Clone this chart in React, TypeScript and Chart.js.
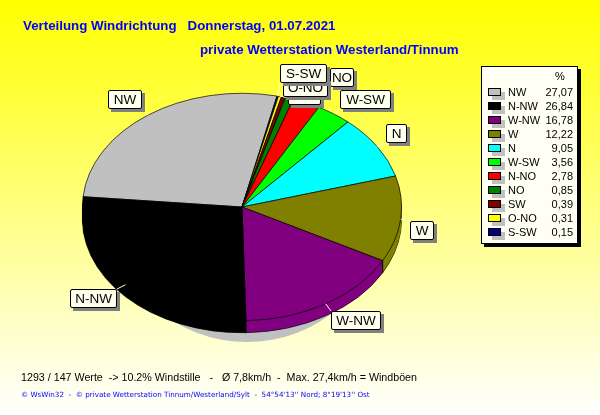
import React, { useEffect, useRef } from "react";
import { Chart, registerables } from "chart.js";

Chart.register(...registerables);

// ---- data (legend order) ----
const directions = ["NW", "N-NW", "W-NW", "W", "N", "W-SW", "N-NO", "NO", "SW", "O-NO", "S-SW"];
const shares = [27.07, 26.84, 16.78, 12.22, 9.05, 3.56, 2.78, 0.85, 0.39, 0.31, 0.15];
const shareLabels = ["27,07", "26,84", "16,78", "12,22", "9,05", "3,56", "2,78", "0,85", "0,39", "0,31", "0,15"];
const colours = ["#c0c0c0", "#000000", "#800080", "#808000", "#00ffff", "#00ff00", "#ff0000", "#008000", "#800000", "#ffff00", "#000080"];
// clockwise order of the slices round the pie
const pieOrder = ["NW", "S-SW", "O-NO", "SW", "NO", "N-NO", "W-SW", "N", "W", "W-NW", "N-NW"];

const titleLine1 = "Verteilung Windrichtung   Donnerstag, 01.07.2021";
const titleLine2 = "private Wetterstation Westerland/Tinnum";
const summaryLine = "1293 / 147 Werte  -> 10.2% Windstille   -   Ø 7,8km/h  -  Max. 27,4km/h = Windböen";
const footerLine = "© WsWin32  -  © private Wetterstation Tinnum/Westerland/Sylt  -  54°54'13'' Nord; 8°19'13'' Ost";

// ---- layout of the annotations ----
const SQUASH = 0.7125;
const DEPTH = 12;
const labelBoxes: Record<string, [number, number, number]> = {
  NW: [108, 90, 34],
  "N-NW": [70, 289, 47],
  "W-NW": [331, 311, 50],
  W: [410, 221, 24],
  N: [386, 124, 21],
  "W-SW": [340, 90, 51],
  "N-NO": [284, 77, 43],
  NO: [330, 68, 24],
  SW: [288, 86, 33],
  "O-NO": [283, 78, 45],
  "S-SW": [280, 64, 47],
};
const LABEL_H = 19;

const pieData = pieOrder.map((d) => shares[directions.indexOf(d)]);
const pieColours = pieOrder.map((d) => colours[directions.indexOf(d)]);

const piePlugin = {
  id: "pie3d",
  beforeDraw(chart: any) {
    const { ctx, width, height } = chart;
    const g = ctx.createLinearGradient(0, 0, 0, height);
    g.addColorStop(0, "#ffff00");
    g.addColorStop(1, "#ffffff");
    ctx.save();
    ctx.fillStyle = g;
    ctx.fillRect(0, 0, width, height);
    ctx.restore();
  },
  beforeDatasetsDraw(chart: any) {
    const { ctx } = chart;
    const arcs = chart.getDatasetMeta(0).data;
    const { x, y, outerRadius } = arcs[0];
    // soft shadow below the pie
    ctx.save();
    ctx.fillStyle = "#c0c0c0";
    ctx.beginPath();
    ctx.ellipse(x + 5, y + 16, 130, 119, 0, 0, Math.PI * 2);
    ctx.fill();
    ctx.restore();
    // side wall: the same arcs drawn again, stepping down
    for (let dy = DEPTH; dy >= 1; dy--) {
      ctx.save();
      ctx.translate(x, y + dy);
      ctx.scale(1, SQUASH);
      ctx.translate(-x, -y);
      arcs.forEach((arc: any) => {
        const saved = arc.options;
        if (dy !== DEPTH) {
          const o = Object.create(saved);
          Object.defineProperty(o, "borderWidth", { value: 0 });
          arc.options = o;
        }
        arc.draw(ctx);
        arc.options = saved;
      });
      ctx.restore();
    }
    // wall seams
    ctx.save();
    ctx.strokeStyle = "#000";
    ctx.lineWidth = 1;
    arcs.forEach((arc: any) => {
      if (Math.sin(arc.startAngle) > 0) {
        const px = x + outerRadius * Math.cos(arc.startAngle);
        const py = y + SQUASH * outerRadius * Math.sin(arc.startAngle);
        ctx.beginPath();
        ctx.moveTo(px, py);
        ctx.lineTo(px, py + DEPTH);
        ctx.stroke();
      }
    });
    ctx.restore();
    // top face
    ctx.save();
    ctx.translate(x, y);
    ctx.scale(1, SQUASH);
    ctx.translate(-x, -y);
  },
  afterDatasetsDraw(chart: any) {
    const { ctx } = chart;
    ctx.restore();
    const arcs = chart.getDatasetMeta(0).data;
    ctx.save();
    ctx.font = "13.5px 'Liberation Sans'";
    ctx.textAlign = "center";
    ctx.textBaseline = "middle";
    directions.forEach((name) => {
      const arc = arcs[pieOrder.indexOf(name)];
      const [bx, by, bw] = labelBoxes[name];
      const mid = (arc.startAngle + arc.endAngle) / 2;
      const ax = arc.x + arc.outerRadius * Math.cos(mid);
      const ay = arc.y + SQUASH * arc.outerRadius * Math.sin(mid);
      const ex = Math.min(Math.max(ax, bx), bx + bw);
      const ey = Math.min(Math.max(ay, by), by + LABEL_H);
      ctx.strokeStyle = "#ffffe8";
      ctx.lineWidth = 1;
      ctx.beginPath();
      ctx.moveTo(ax, ay);
      ctx.lineTo(ex, ey);
      ctx.stroke();
      ctx.fillStyle = "#808080";
      ctx.fillRect(bx + 3, by + 3, bw, LABEL_H);
      ctx.fillStyle = "#ffffee";
      ctx.strokeStyle = "#000";
      ctx.beginPath();
      ctx.roundRect(bx + 0.5, by + 0.5, bw - 1, LABEL_H - 1, 1.5);
      ctx.fill();
      ctx.stroke();
      ctx.fillStyle = "#000";
      ctx.fillText(name, bx + bw / 2, by + LABEL_H / 2 + 0.5);
    });
    ctx.restore();
  },
  afterDraw(chart: any) {
    const { ctx } = chart;
    ctx.save();
    ctx.textBaseline = "alphabetic";
    // titles
    ctx.fillStyle = "#0000ff";
    ctx.font = "bold 13.3px 'Liberation Sans'";
    ctx.textAlign = "left";
    ctx.fillText(titleLine1, 23, 30);
    ctx.fillText(titleLine2, 200, 54);
    // legend box
    ctx.fillStyle = "#000";
    ctx.fillRect(484, 69, 97, 178);
    ctx.fillStyle = "#fffff4";
    ctx.fillRect(481.5, 66.5, 96, 177);
    ctx.strokeStyle = "#000";
    ctx.lineWidth = 1;
    ctx.strokeRect(481.5, 66.5, 96, 177);
    ctx.font = "11px 'Liberation Sans'";
    ctx.fillStyle = "#000";
    ctx.textAlign = "center";
    ctx.fillText("%", 560, 80);
    directions.forEach((name, i) => {
      const top = 88 + i * 14;
      ctx.fillStyle = "#c0c0c0";
      ctx.fillRect(492, top + 4, 13, 8);
      ctx.fillStyle = colours[i];
      ctx.fillRect(488.5, top + 0.5, 12, 7);
      ctx.strokeStyle = "#000";
      ctx.strokeRect(488.5, top + 0.5, 12, 7);
      ctx.fillStyle = "#000";
      ctx.textAlign = "left";
      ctx.fillText(name, 508, top + 8);
      ctx.textAlign = "right";
      ctx.fillText(shareLabels[i], 573, top + 8);
    });
    // bottom lines
    ctx.textAlign = "left";
    ctx.fillStyle = "#000";
    ctx.font = "10.7px 'Liberation Sans'";
    ctx.fillText(summaryLine, 21, 381);
    ctx.fillStyle = "#0000ff";
    ctx.font = "7.2px 'DejaVu Sans'";
    ctx.fillText(footerLine, 21, 397);
    ctx.restore();
  },
};

export default function App() {
  const ref = useRef<HTMLCanvasElement>(null);
  useEffect(() => {
    document.body.style.margin = "0";
    const chart = new Chart(ref.current!, {
      type: "pie",
      data: {
        labels: pieOrder,
        datasets: [
          {
            data: pieData,
            backgroundColor: pieColours,
            borderColor: "#000000",
            borderWidth: 0.8,
          },
        ],
      },
      options: {
        responsive: false,
        animation: false,
        devicePixelRatio: 1,
        events: [],
        rotation: -84.8,
        layout: { padding: { left: 82, right: 198, top: 47, bottom: 48 } },
        plugins: { legend: { display: false }, tooltip: { enabled: false }, title: { display: false } },
      },
      plugins: [piePlugin],
    } as any);
    return () => chart.destroy();
  }, []);
  return (
    <div style={{ position: "fixed", left: 0, top: 0, width: 600, height: 415 }}>
      <canvas ref={ref} width={600} height={415} style={{ display: "block", width: 600, height: 415 }} />
    </div>
  );
}
